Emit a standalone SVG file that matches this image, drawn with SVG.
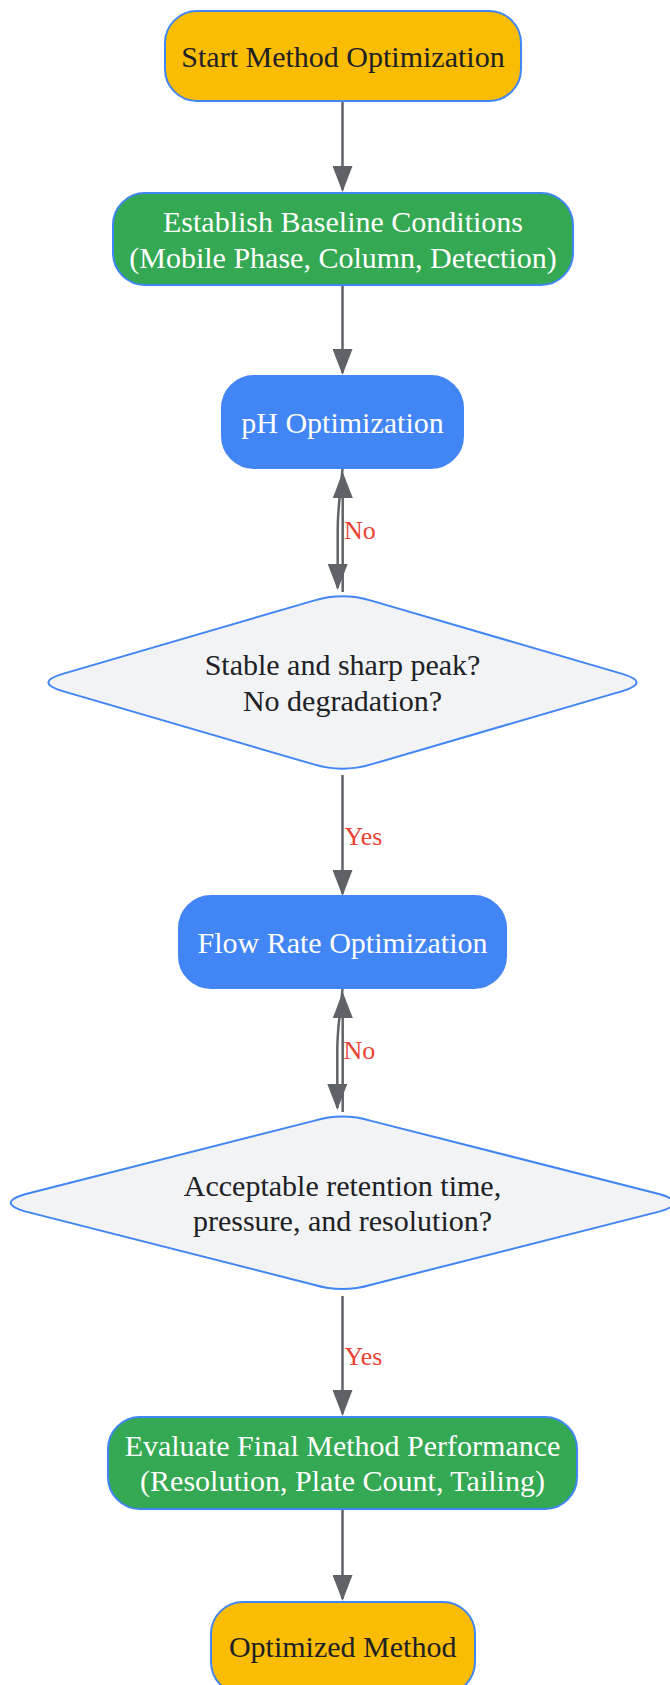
<svg xmlns="http://www.w3.org/2000/svg" width="670" height="1685" viewBox="0 0 670 1685">
  <style>
    .t { font-family: "Liberation Serif", "Times New Roman", serif; font-size: 30px; text-anchor: middle; }
    .dark { fill: #202124; }
    .light { fill: #ffffff; }
    .lbl { font-family: "Liberation Serif", "Times New Roman", serif; font-size: 26px; fill: #ea4335; }
    .edge { fill: none; stroke: #5f6368; stroke-width: 2.5; }
    .term { fill: #fbbc04; stroke: #4285f4; stroke-width: 2; }
    .green { fill: #34a853; stroke: #4285f4; stroke-width: 2; }
    .blue { fill: #4285f4; stroke: #4285f4; stroke-width: 2; }
    .dec { fill: #f1f3f4; stroke: #4285f4; stroke-width: 2; }
  </style>
  <defs>
    <marker id="arr" viewBox="0 0 26 20" refX="24" refY="10" markerWidth="26" markerHeight="20" markerUnits="userSpaceOnUse" orient="auto">
      <path d="M0,0 L26,10 L0,20 z" fill="#5f6368"/>
    </marker>
  </defs>
  <rect width="670" height="1685" fill="#ffffff"/>

  <g id="connectors">
    <path class="edge" d="M342.5,101 L342.5,190" marker-end="url(#arr)"/>
    <path class="edge" d="M342.5,285 L342.5,373" marker-end="url(#arr)"/>
    <path class="edge" d="M342.5,468 C341,490 337.7,505 337.7,530 L337.7,588" marker-end="url(#arr)"/>
    <path class="edge" d="M342.7,592 C342.7,560 342.9,520 342.7,474" marker-end="url(#arr)"/>
    <path class="edge" d="M342.5,775 L342.5,894" marker-end="url(#arr)"/>
    <path class="edge" d="M342.5,988 C341,1010 337.3,1025 337.3,1050 L337.3,1108" marker-end="url(#arr)"/>
    <path class="edge" d="M342.7,1112 C342.7,1080 342.9,1040 342.7,994" marker-end="url(#arr)"/>
    <path class="edge" d="M342.5,1296 L342.5,1414" marker-end="url(#arr)"/>
    <path class="edge" d="M342.5,1509 L342.5,1599" marker-end="url(#arr)"/>
    <text class="lbl" x="344" y="539">No</text>
    <text class="lbl" x="344.5" y="845">Yes</text>
    <text class="lbl" x="343.5" y="1059">No</text>
    <text class="lbl" x="344.5" y="1365">Yes</text>
  </g>

  <g id="start">
    <rect class="term" x="165" y="11" width="356" height="90" rx="32" ry="32"/>
    <text class="t dark" x="343" y="67">Start Method Optimization</text>
  </g>

  <g id="baseline">
    <rect class="green" x="113" y="193" width="460" height="92" rx="32" ry="32"/>
    <text class="t light" x="343" y="232">Establish Baseline Conditions</text>
    <text class="t light" x="343" y="267.5">(Mobile Phase, Column, Detection)</text>
  </g>

  <g id="ph">
    <rect class="blue" x="222" y="376" width="241" height="92" rx="32" ry="32"/>
    <text class="t light" x="342.5" y="433">pH Optimization</text>
  </g>

  <g id="decision1">
    <path class="dec" d="M313.8,600.6 Q342.5,592 371.2,600.6 L622.3,673.9 Q651,682.5 622.3,691.1 L371.2,764.4 Q342.5,773 313.8,764.4 L62.7,691.1 Q34,682.5 62.7,673.9 Z"/>
    <text class="t dark" x="342.5" y="675">Stable and sharp peak?</text>
    <text class="t dark" x="342.5" y="710.7">No degradation?</text>
  </g>

  <g id="flow">
    <rect class="blue" x="179" y="896" width="327" height="92" rx="32" ry="32"/>
    <text class="t light" x="342.5" y="953">Flow Rate Optimization</text>
  </g>

  <g id="decision2">
    <path class="dec" d="M313.8,1120.9 Q342.5,1112.3 371.2,1120.9 L660,1194.2 Q688.7,1202.8 660,1211.4 L371.2,1284.7 Q342.5,1293.3 313.8,1284.7 L25,1211.4 Q-3.7,1202.8 25,1194.2 Z"/>
    <text class="t dark" x="342.5" y="1195.5">Acceptable retention time,</text>
    <text class="t dark" x="342.5" y="1231">pressure, and resolution?</text>
  </g>

  <g id="evaluate">
    <rect class="green" x="108" y="1417" width="469" height="92" rx="32" ry="32"/>
    <text class="t light" x="342.5" y="1455.5">Evaluate Final Method Performance</text>
    <text class="t light" x="342.5" y="1491">(Resolution, Plate Count, Tailing)</text>
  </g>

  <g id="optimized">
    <rect class="term" x="211" y="1602" width="264" height="92" rx="32" ry="32"/>
    <text class="t dark" x="342.7" y="1657">Optimized Method</text>
  </g>
</svg>
